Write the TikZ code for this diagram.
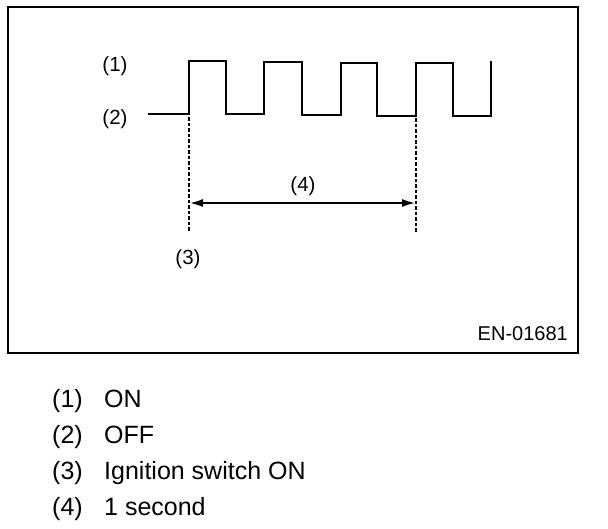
\documentclass[tikz,border=0pt]{standalone}
\usepackage{fontspec}
\setmainfont{Liberation Sans}
\usetikzlibrary{arrows.meta}

\begin{document}
\begin{tikzpicture}[x=1pt,y=-1pt,
  wave/.style={line width=2.8pt,line join=miter},
  marker/.style={line width=1.8pt,dash pattern=on 3.5pt off 2pt},
  span/.style={line width=2.4pt,{Latex[length=14pt,width=8pt]}-{Latex[length=14pt,width=8pt]}},
  lbl/.style={inner sep=0pt,font=\fontsize{20.5}{25}\selectfont},
  key/.style={inner sep=0pt,anchor=base west,font=\fontsize{25}{30}\selectfont}]
  \useasboundingbox (0,0) rectangle (608,528);
  \draw[line width=2.2pt] (8,7) rectangle (578,353);
  \coordinate (start) at (148,114);
  \coordinate (t0) at (189,117);
  \coordinate (t1) at (416,118);
  \coordinate (t0b) at (189,232);
  \coordinate (t1b) at (416,232);
  \coordinate (a0) at (189,203);
  \coordinate (a1) at (416,203);
  \draw[wave] (start) -- (189,114) -- (189,61) -- (226,61) -- (226,114) -- (264,114) -- (264,62) -- (302,62) -- (302,115) -- (341,115) -- (341,63) -- (377,63) -- (377,116) -- (416,116) -- (416,63) -- (453,63) -- (453,116) -- (491,116) -- (491,61);
  \draw[marker] (t0) -- (t0b);
  \draw[marker] (t1) -- (t1b);
  \draw[span] (a0) -- (a1);
  \node[lbl] (on) at (115,66) {(1)};
  \node[lbl] (off) at (115,119) {(2)};
  \node[lbl] (sec) at (303,186) {(4)};
  \node[lbl] (ign) at (188,259) {(3)};
  \node[lbl,anchor=east,font=\fontsize{20}{24}\selectfont] (code) at (568,334) {EN-01681};
  \node[key] (k1) at (52,407) {(1)};
  \node[key] (v1) at (104,407) {ON};
  \node[key] (k2) at (52,443) {(2)};
  \node[key] (v2) at (104,443) {OFF};
  \node[key] (k3) at (52,479) {(3)};
  \node[key] (v3) at (104,479) {Ignition switch ON};
  \node[key] (k4) at (52,515) {(4)};
  \node[key] (v4) at (104,515) {1 second};
\end{tikzpicture}
\end{document}
